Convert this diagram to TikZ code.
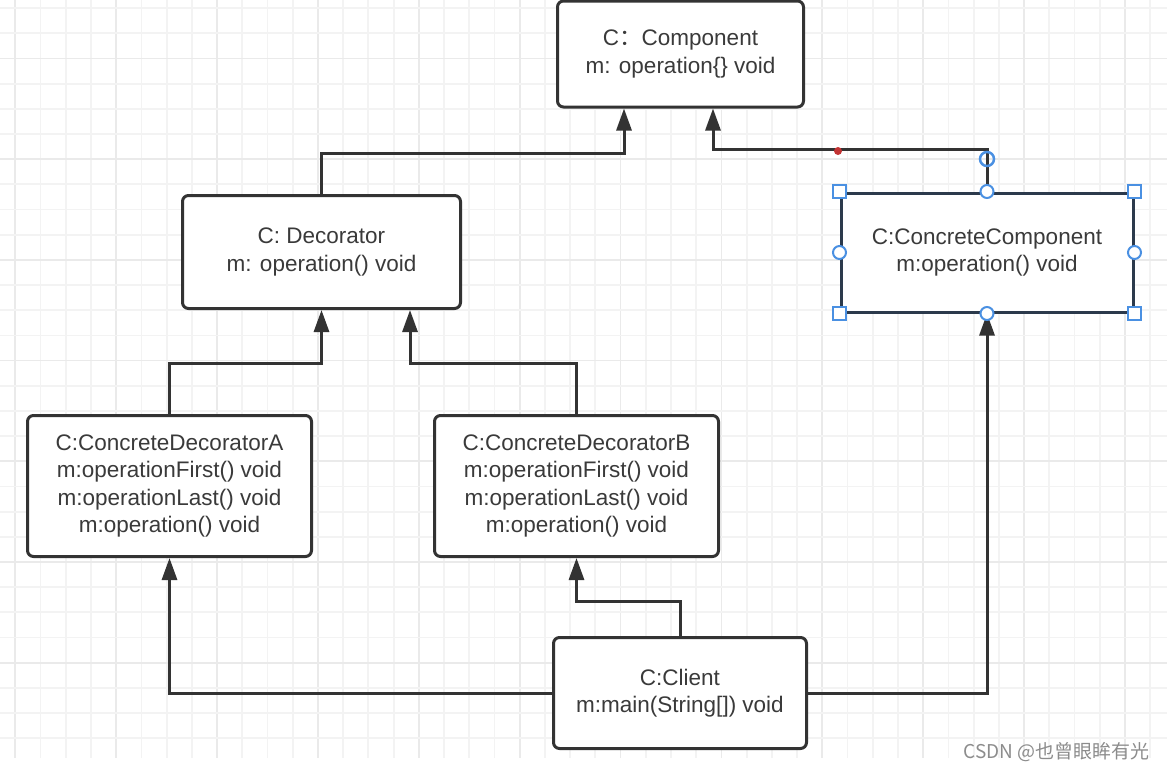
\documentclass[tikz,border=0pt]{standalone}
\usepackage{fontspec}
\setmainfont{Liberation Sans}
\newfontfamily\cjkfont{Noto Sans CJK SC}
\usetikzlibrary{positioning, arrows.meta}

\definecolor{linegray}{HTML}{333333}
\definecolor{textgray}{HTML}{3A3A3A}
\definecolor{gridminor}{HTML}{F3F3F3}
\definecolor{gridmajor}{HTML}{EAEAEA}
\definecolor{selblue}{HTML}{4A90E2}
\definecolor{ccborder}{HTML}{2C3A4C}

\begin{document}
\begin{tikzpicture}[x=1pt, y=-1pt,
    classbox/.style={draw=linegray, line width=3pt, rounded corners=6pt, fill=white,
      align=center, text=textgray, inner sep=0pt,
      font=\fontsize{22.5}{27.2}\selectfont},
    link/.style={draw=linegray, line width=3pt, -{Triangle[length=22pt, width=15pt]}},
    handlebox/.style={draw=selblue, line width=2pt, fill=white, minimum size=13pt, inner sep=0pt},
    handledot/.style={draw=selblue, line width=2pt, fill=white, circle, minimum size=13pt, inner sep=0pt}]
    \useasboundingbox (0,0) rectangle (1167,772);

    % Draw background grid
    \foreach \i in {0,...,45} {
      \pgfmathsetmacro{\gx}{15.3+25.22*\i}
      \pgfmathtruncatemacro{\gm}{mod(\i,4)}
      \ifnum\gm=0
        \draw[gridmajor, line width=1.8pt] (\gx,0) -- (\gx,758);
      \else
        \draw[gridminor, line width=1.8pt] (\gx,0) -- (\gx,758);
      \fi
    }
    \foreach \j in {0,...,29} {
      \pgfmathsetmacro{\gy}{8.2+25.17*\j}
      \pgfmathtruncatemacro{\gm}{mod(\j,4)}
      \ifnum\gm=2
        \draw[gridmajor, line width=1.8pt] (0,\gy) -- (1167,\gy);
      \else
        \draw[gridminor, line width=1.8pt] (0,\gy) -- (1167,\gy);
      \fi
    }

    % Draw classes
    \node[classbox, minimum width=246pt, minimum height=106pt] (comp) at (680.5,54)
      {C{\cjkfont ：}Component\\m: operation\{\} void};
    \node[classbox, minimum width=278pt, minimum height=113pt] (deco) at (321.5,252)
      {C: Decorator\\m: operation() void};
    \node[classbox, draw=ccborder, rounded corners=0pt, minimum width=292pt, minimum height=119pt] (cc) at (987,252.5)
      {C:ConcreteComponent\\m:operation() void};
    \node[classbox, minimum width=284pt, minimum height=141pt] (cda) at (169.5,486)
      {C:ConcreteDecoratorA\\m:operationFirst() void\\m:operationLast() void\\m:operation() void};
    \node[classbox, minimum width=284pt, minimum height=141pt] (cdb) at (576.5,486)
      {C:ConcreteDecoratorB\\m:operationFirst() void\\m:operationLast() void\\m:operation() void};
    \node[classbox, minimum width=253pt, minimum height=111pt] (client) at (680,693)
      {C:Client\\m:main(String[]) void};

    % Draw connectors
    \draw[link] (deco.north) -- ++(0,-41) -| ([xshift=-56.5pt]comp.south);
    \draw[link] (cc.north) -- ++(0,-42) -| ([xshift=32.5pt]comp.south);
    \draw[link] (cda.north) -- ++(0,-51) -| (deco.south);
    \draw[link] (cdb.north) -- ++(0,-51) -| ([xshift=88.5pt]deco.south);
    \draw[link] (client.west) -| (cda.south);
    \draw[link] (client.north) -- ++(0,-35) -| (cdb.south);
    \draw[link] (client.east) -| (cc.south);

    % Draw selection handles
    \foreach \a in {north west, north east, south west, south east}
      \node[handlebox] at (cc.\a) {};
    \foreach \a in {north, south, east, west}
      \node[handledot] at (cc.\a) {};
    \node[circle, draw=selblue, line width=2.5pt, minimum size=14pt, inner sep=0pt] (ring) at (987,159) {};
    \fill[red!70!black!80] (838,151) circle (4pt);

    % Draw watermark
    \node[anchor=east, text=black!45, font=\cjkfont\fontsize{19}{22}\selectfont] (mark) at (1153,752)
      {CSDN @也曾眼眸有光};
\end{tikzpicture}
\end{document}
